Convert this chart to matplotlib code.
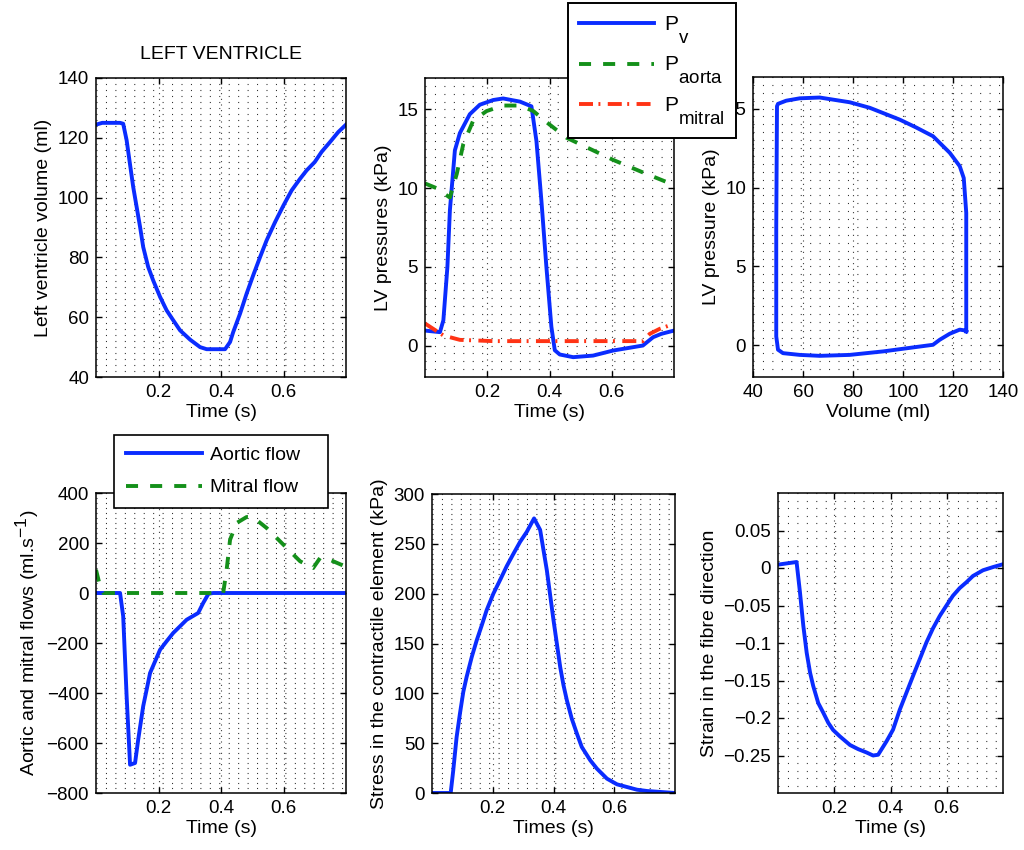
import matplotlib
matplotlib.use("Agg")
import matplotlib.pyplot as plt
from matplotlib.ticker import MultipleLocator, FixedLocator, FuncFormatter
try:
    import matplotlib._mathtext as _mt
    _mt.SHRINK_FACTOR = 0.9
    _mt.FontConstantsBase.sub1 = 1.2
    _mt.FontConstantsBase.sub2 = 1.2
except Exception:
    pass

plt.rcParams['font.family'] = ['Liberation Sans', 'DejaVu Sans']
plt.rcParams['mathtext.fontset'] = 'custom'
plt.rcParams['mathtext.rm'] = 'Liberation Sans'
plt.rcParams['mathtext.it'] = 'Liberation Sans'
plt.rcParams['mathtext.bf'] = 'Liberation Sans'

# ---------------- data ----------------
vol_t = [0.0, 0.02, 0.077, 0.087, 0.098, 0.109, 0.119, 0.13, 0.141, 0.151, 0.167, 0.183,
         0.205, 0.226, 0.247, 0.269, 0.301, 0.333, 0.354,
         0.413, 0.429, 0.439, 0.461, 0.482, 0.503, 0.525, 0.546, 0.573, 0.6, 0.626, 0.653,
         0.674, 0.70, 0.722, 0.749, 0.775, 0.8]
vol_v = [124.4, 125.0, 125.0, 124.7, 119.2, 111.0, 103.6, 96.9, 90.2, 83.5, 76.8, 72.3,
         66.8, 62.3, 59.0, 55.6, 52.5, 50.0, 49.3,
         49.3, 51.7, 55.0, 61.2, 67.9, 74.0, 80.1, 85.7, 91.8, 97.4, 102.4, 106.3,
         109.1, 111.9, 115.3, 118.6, 121.9, 124.4]

pv_t = [0.0, 0.048, 0.059, 0.072, 0.08, 0.096, 0.112, 0.144, 0.176, 0.219, 0.251, 0.305,
        0.342, 0.358, 0.374, 0.39, 0.406, 0.417, 0.433, 0.476, 0.54, 0.604, 0.7, 0.733,
        0.759, 0.8]
pv_p = [0.95, 0.85, 1.6, 5.0, 8.6, 12.4, 13.5, 14.7, 15.3, 15.6, 15.7, 15.5,
        15.2, 13.0, 9.2, 5.0, 1.2, -0.3, -0.57, -0.74, -0.64, -0.32, 0.0, 0.53,
        0.74, 0.95]

pao_t = [0.0, 0.037, 0.08, 0.102, 0.123, 0.155, 0.198, 0.251, 0.305, 0.348, 0.39, 0.455,
         0.519, 0.604, 0.7, 0.8]
pao_p = [10.3, 10.0, 9.4, 10.9, 12.8, 14.3, 14.9, 15.25, 15.25, 14.9, 14.2, 13.2,
         12.6, 11.8, 11.0, 10.2]

pmi_t = [0.0, 0.059, 0.112, 0.219, 0.54, 0.7, 0.722, 0.754, 0.8]
pmi_p = [1.4, 0.64, 0.36, 0.28, 0.28, 0.28, 0.74, 1.06, 1.38]

loop_v = [125.3, 125.3, 124.3, 122.7, 118.7, 112.0, 105.3, 98.7, 86.7, 78.7, 66.7, 58.7,
          53.3, 50.0, 49.6, 49.3, 49.3, 50.0, 52.0, 58.7, 66.7, 78.7, 92.0, 105.3,
          112.0, 114.7, 118.7, 122.7, 124.7, 125.3]
loop_p = [0.89, 8.4, 10.6, 11.35, 12.2, 13.25, 13.8, 14.3, 15.05, 15.4, 15.7, 15.65,
          15.5, 15.3, 15.15, 7.5, 0.57, -0.27, -0.49, -0.6, -0.66, -0.6, -0.38, -0.1,
          0.04, 0.36, 0.74, 1.0, 0.95, 0.89]

aof_t = [0.0, 0.077, 0.087, 0.098, 0.109, 0.125, 0.135, 0.151, 0.162, 0.173, 0.205, 0.226,
         0.247, 0.269, 0.29, 0.327, 0.343, 0.36, 0.375, 0.8]
aof_q = [0, 0, -93, -413, -687, -680, -587, -453, -387, -320, -227, -193,
         -160, -133, -107, -80, -40, -3, 0, 0]

mif_t = [0.0, 0.013, 0.023, 0.407, 0.418, 0.429, 0.45, 0.482, 0.503, 0.546, 0.6, 0.653,
         0.695, 0.717, 0.733, 0.759, 0.8]
mif_q = [93, 27, 0, 0, 93, 213, 280, 304, 303, 260, 193, 127,
         100, 140, 140, 127, 105]

str_t = [0.0, 0.0615, 0.070, 0.081, 0.092, 0.103, 0.114, 0.131, 0.147, 0.164, 0.18, 0.202,
         0.224, 0.246, 0.268, 0.29, 0.312, 0.336, 0.356,
         0.378, 0.4, 0.411, 0.422, 0.433, 0.444, 0.46, 0.477, 0.493, 0.521, 0.543, 0.576,
         0.609, 0.642, 0.675, 0.708, 0.8]
str_s = [0, 0, 22.8, 56, 79.7, 101.4, 116.5, 136.6, 153, 168.4, 183.5, 200,
         213.6, 227.6, 240, 252, 262, 275.5, 264,
         223.6, 173.4, 150, 126.5, 108, 93, 74.7, 59.6, 46.2, 32.8, 24.4, 14.4,
         8.7, 6, 3.3, 2, 0]

stn_t = [0.0, 0.066, 0.078, 0.09, 0.102, 0.114, 0.125, 0.143, 0.161, 0.179, 0.196, 0.22,
         0.256, 0.285, 0.315, 0.338, 0.356,
         0.386, 0.409, 0.433, 0.457, 0.48, 0.504, 0.528, 0.551, 0.575, 0.599, 0.622, 0.646,
         0.67, 0.693, 0.729, 0.765, 0.8]
stn_e = [0.0045, 0.008, -0.032, -0.077, -0.113, -0.1395, -0.157, -0.18, -0.193, -0.2066,
         -0.216, -0.2245, -0.236, -0.2415, -0.246, -0.25, -0.249,
         -0.231, -0.2156, -0.189, -0.166, -0.144, -0.1216, -0.099, -0.0805, -0.064, -0.05,
         -0.037, -0.0268, -0.019, -0.0107, -0.003, 0.0013, 0.005]

BLUE = '#0a2cff'
GREEN = '#14901a'
RED = '#ff3315'
LW = 2.8
DASH = (0, (3.1, 3.1))
DASHDOT = (0, (3.6, 1.4, 0.5, 1.9))

W, H = 1024, 850
fig = plt.figure(figsize=(W / 100, H / 100), dpi=100)


def make_ax(x0, x1, y0, y1):
    return fig.add_axes([x0 / W, 1 - y1 / H, (x1 - x0) / W, (y1 - y0) / H])


def style(ax, xticks, xlim, yticks, ylim, yminor):
    ax.set_xlim(*xlim)
    ax.set_ylim(*ylim)
    ax.xaxis.set_major_locator(FixedLocator(xticks))
    ax.yaxis.set_major_locator(FixedLocator(yticks))
    ax.yaxis.set_minor_locator(MultipleLocator(yminor))
    ax.tick_params(which='major', direction='in', top=True, right=True, length=4,
                   width=1.0, labelsize=13.5, pad=5)
    ax.tick_params(which='minor', left=False, right=False, bottom=False, top=False)
    ax.yaxis.grid(True, which='minor', linestyle=(0, (0.9, 7.6)), color='0.15', lw=0.8)
    ax.yaxis.grid(True, which='major', linestyle=(0, (0.9, 7.6)), color='0.15', lw=0.8)
    ax.xaxis.grid(True, which='major', linestyle=(0, (0.9, 4.2)), color='0.15', lw=0.8)
    ax.set_axisbelow(True)
    for s in ax.spines.values():
        s.set_linewidth(1.1)


fmt_g = FuncFormatter(lambda v, p: ('%g' % v).replace('-', '\u2212'))
tx = [0.2, 0.4, 0.6]

# Panel 1
ax1 = make_ax(96, 346, 78, 377)
ax1.plot(vol_t, vol_v, color=BLUE, lw=LW)
style(ax1, tx, (0, 0.8), [40, 60, 80, 100, 120, 140], (40, 140), 2)
ax1.xaxis.set_major_formatter(fmt_g)
ax1.set_xlabel('Time (s)', fontsize=14, labelpad=2)
ax1.set_ylabel('Left ventricle volume (ml)', fontsize=14)
ax1.set_title('LEFT VENTRICLE', fontsize=14, pad=14)

# Panel 2
ax2 = make_ax(425, 674, 78, 377)
l_pv, = ax2.plot(pv_t, pv_p, color=BLUE, lw=LW, label=r'P$_{\mathrm{v}}$')
l_pa, = ax2.plot(pao_t, pao_p, color=GREEN, lw=LW, linestyle=DASH,
                 label=r'P$_{\mathrm{aorta}}$')
l_pm, = ax2.plot(pmi_t, pmi_p, color=RED, lw=LW, linestyle=DASHDOT,
                 label=r'P$_{\mathrm{mitral}}$')
style(ax2, tx, (0, 0.8), [0, 5, 10, 15], (-2, 17), 0.5)
ax2.xaxis.set_major_formatter(fmt_g)
ax2.set_xlabel('Time (s)', fontsize=14, labelpad=2)
ax2.set_ylabel('LV pressures (kPa)', fontsize=14)

# Panel 3
ax3 = make_ax(753, 1003, 77, 377)
ax3.plot(loop_v, loop_p, color=BLUE, lw=LW)
style(ax3, [40, 60, 80, 100, 120, 140], (40, 140), [0, 5, 10, 15], (-2, 17), 0.5)
ax3.set_xlabel('Volume (ml)', fontsize=14, labelpad=2)
ax3.set_ylabel('LV pressure (kPa)', fontsize=14)

# Panel 4
ax4 = make_ax(96, 346, 493, 793)
l_ao, = ax4.plot(aof_t, aof_q, color=BLUE, lw=LW, label='Aortic flow   ')
l_mi, = ax4.plot(mif_t, mif_q, color=GREEN, lw=LW, linestyle=DASH,
                 label='Mitral flow   ')
style(ax4, tx, (0, 0.8), [-800, -600, -400, -200, 0, 200, 400], (-800, 400), 20)
ax4.xaxis.set_major_formatter(fmt_g)
ax4.yaxis.set_major_formatter(fmt_g)
ax4.set_xlabel('Time (s)', fontsize=14, labelpad=2)
ax4.set_ylabel(r'Aortic and mitral flows (ml.s$^{-1}$)', fontsize=14)

# Panel 5
ax5 = make_ax(432, 675, 494, 793)
ax5.plot(str_t, str_s, color=BLUE, lw=LW)
style(ax5, tx, (0, 0.8), [0, 50, 100, 150, 200, 250, 300], (0, 300), 5)
ax5.xaxis.set_major_formatter(fmt_g)
ax5.set_xlabel('Times (s)', fontsize=14, labelpad=2)
ax5.set_ylabel('Stress in the contractile element (kPa)', fontsize=14)

# Panel 6
ax6 = make_ax(778, 1003, 493, 793)
ax6.plot(stn_t, stn_e, color=BLUE, lw=LW)
style(ax6, tx, (0, 0.8), [-0.25, -0.2, -0.15, -0.1, -0.05, 0, 0.05], (-0.3, 0.1), 0.01)
ax6.xaxis.set_major_formatter(fmt_g)
ax6.yaxis.set_major_formatter(fmt_g)
ax6.set_xlabel('Time (s)', fontsize=14, labelpad=2)
ax6.set_ylabel('Strain in the fibre direction', fontsize=14)

# Legends (figure level, drawn over the axes)
leg1 = fig.legend(handles=[l_pv, l_pa, l_pm], loc='upper left',
                  bbox_to_anchor=(568 / W, 1 - 3 / H), borderaxespad=0,
                  fontsize=15, handlelength=3.6, handletextpad=0.45,
                  labelspacing=0.45, borderpad=0.55, fancybox=False,
                  framealpha=1, edgecolor='black')
leg1.get_frame().set_linewidth(1.4)
leg2 = fig.legend(handles=[l_ao, l_mi], loc='upper left',
                  bbox_to_anchor=(114 / W, 1 - 435 / H), borderaxespad=0,
                  fontsize=14, handlelength=3.9, handletextpad=0.45,
                  labelspacing=0.75, borderpad=0.6, fancybox=False,
                  framealpha=1, edgecolor='black')
leg2.get_frame().set_linewidth(1.2)

fig.savefig('out.png', dpi=100)
